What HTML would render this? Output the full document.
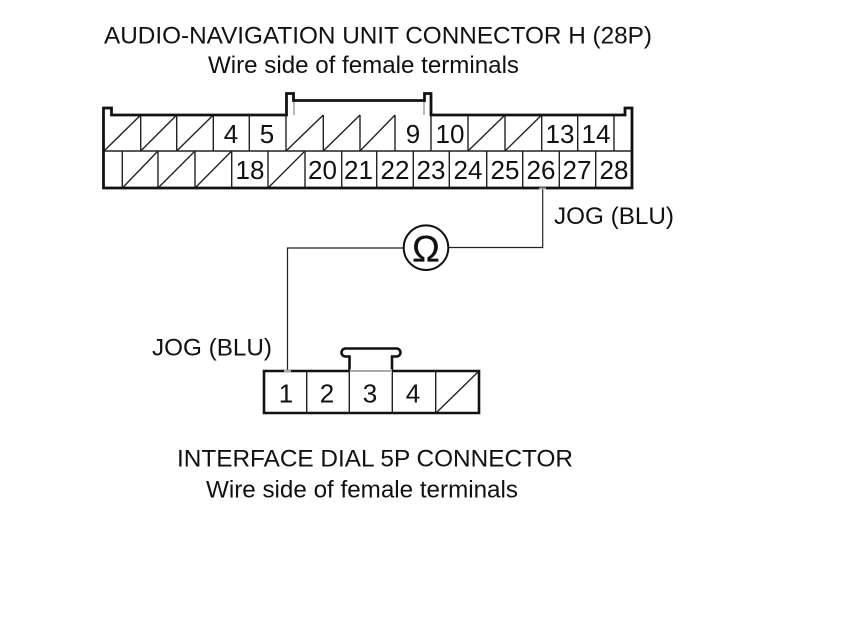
<!DOCTYPE html>
<html><head><meta charset="utf-8"><style>
html,body{margin:0;padding:0;background:#fff}
svg{display:block}
text{font-family:"Liberation Sans",Arial,sans-serif;fill:#111}
.n{font-size:26px;text-anchor:middle}
.t{font-size:24px}
</style></head><body>
<svg width="860" height="630" viewBox="0 0 860 630" xmlns="http://www.w3.org/2000/svg">
<rect width="860" height="630" fill="#fff"/>
<text class="t" x="104" y="43.5" textLength="548" lengthAdjust="spacingAndGlyphs">AUDIO-NAVIGATION UNIT CONNECTOR H (28P)</text>
<text class="t" x="208" y="73" textLength="311" lengthAdjust="spacingAndGlyphs">Wire side of female terminals</text>
<text class="t" x="554" y="224" textLength="120" lengthAdjust="spacingAndGlyphs">JOG (BLU)</text>
<text class="t" x="152" y="355.5" textLength="120" lengthAdjust="spacingAndGlyphs">JOG (BLU)</text>
<text class="t" x="177" y="466.5" textLength="396" lengthAdjust="spacingAndGlyphs">INTERFACE DIAL 5P CONNECTOR</text>
<text class="t" x="206" y="497.5" textLength="312" lengthAdjust="spacingAndGlyphs">Wire side of female terminals</text>

<!-- upper connector thin lines -->
<g stroke="#222" stroke-width="1.4" fill="none">
<path d="M103 151H632"/>
<path d="M140.7 115V151M176.7 115V151M213.3 115V151M249.3 115V151M286 115V151M323.3 115V151M360 115V151M395 115V151M431 115V151M468 115V151M505 115V151M541.7 115V151M577.7 115V151M614 115V151"/>
<path d="M122.3 151V188M158 151V188M195 151V188M231.7 151V188M268 151V188M305 151V188M341.7 151V188M376.7 151V188M413.3 151V188M449.3 151V188M486.7 151V188M522.7 151V188M559.3 151V188M595.7 151V188"/>
<path d="M104 151L140.7 115M140.7 151L176.7 115M176.7 151L213.3 115M286 151L323.3 115M323.3 151L360 115M360 151L395 115M468 151L505 115M505 151L541.7 115"/>
<path d="M122.3 188L158 151M158 188L195 151M195 188L231.7 151M268 188L305 151"/>
</g>
<path d="M294 100V115M424 100V115" stroke="#888" stroke-width="1.2" fill="none"/>
<!-- upper connector thick outline -->
<path d="M103.5 188V108H111.5V115H286.5V93.5H293.5V100.5H424.5V93.5H431V115H625V108H632V188Z" fill="none" stroke="#111" stroke-width="2.8"/>
<g>
<text class="n" x="231" y="143">4</text><text class="n" x="267" y="143">5</text>
<text class="n" x="413" y="143">9</text><text class="n" x="450" y="143">10</text>
<text class="n" x="560" y="143">13</text><text class="n" x="596" y="143">14</text>
<text class="n" x="250" y="179">18</text><text class="n" x="322.5" y="179">20</text><text class="n" x="358.5" y="179">21</text>
<text class="n" x="395" y="179">22</text><text class="n" x="431" y="179">23</text><text class="n" x="468" y="179">24</text>
<text class="n" x="505" y="179">25</text><text class="n" x="541" y="179">26</text><text class="n" x="577" y="179">27</text><text class="n" x="614" y="179">28</text>
</g>

<!-- wire -->
<path d="M287.5 370V248H404M448 247.5H542.7V188" fill="none" stroke="#222" stroke-width="1.2"/>
<path d="M539 188.5H546" stroke="#aaa" stroke-width="2"/>
<circle cx="426" cy="247.7" r="22.3" fill="#fff" stroke="#111" stroke-width="2"/>
<text x="426" y="261.5" style="font-size:37px;text-anchor:middle;stroke:#111;stroke-width:.3">Ω</text>

<!-- lower connector -->
<g stroke="#222" stroke-width="1.4" fill="none">
<path d="M306.7 371V413M349.3 371V413M392.3 371V413M435.7 371V413"/>
<path d="M436 413L479 371"/>
</g>
<path d="M264 371H349.5V356.5H345.5A4 4 0 0 1 345.5 348.5H396.5A4 4 0 0 1 396.5 356.5H392V371H479V413H264Z" fill="none" stroke="#111" stroke-width="2.6"/>
<path d="M350 371H392" stroke="#fff" stroke-width="3"/>
<path d="M349.3 371H392.3" stroke="#555" stroke-width="1"/>
<path d="M284 371H291" stroke="#aaa" stroke-width="2.6"/>
<text class="n" x="286" y="402.5">1</text><text class="n" x="327" y="402.5">2</text><text class="n" x="370" y="402.5">3</text><text class="n" x="413" y="402.5">4</text>
</svg>
</body></html>
